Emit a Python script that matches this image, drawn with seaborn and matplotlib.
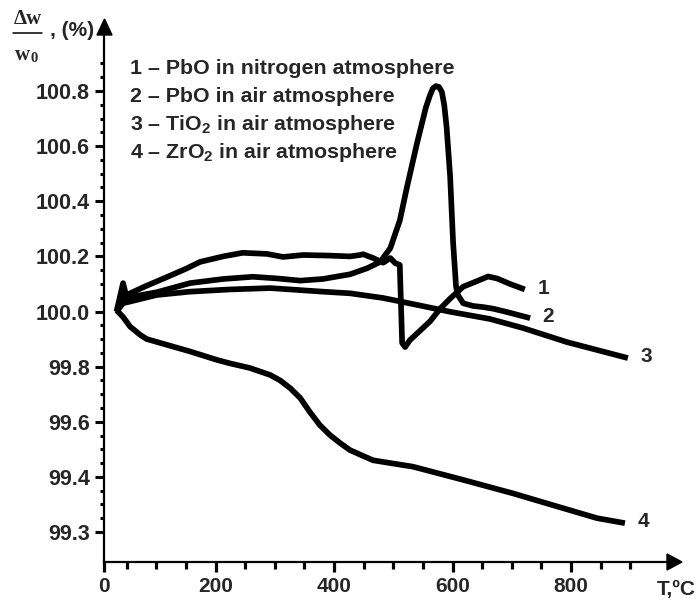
import numpy as np
import pandas as pd
import matplotlib
matplotlib.use("Agg")
import matplotlib.pyplot as plt
import seaborn as sns
from matplotlib.patches import Polygon
from matplotlib.lines import Line2D

# ---------------- data ----------------
t1 = [33, 42, 50, 80, 118, 150, 174, 213, 246, 287, 314, 348, 390, 427, 444, 449,
      466, 483, 495, 503, 511, 515, 520, 528, 540, 562, 579, 596, 618, 641, 660,
      675, 697, 722]
w1 = [100.0, 100.04, 100.06, 100.09, 100.125, 100.155, 100.18, 100.2, 100.213,
      100.209, 100.198, 100.205, 100.203, 100.2, 100.205, 100.208, 100.194, 100.177,
      100.194, 100.176, 100.169, 99.886, 99.871, 99.896, 99.92, 99.964, 100.01,
      100.047, 100.09, 100.11, 100.127, 100.12, 100.1, 100.08]

t2 = [33, 44, 50, 101, 157, 213, 263, 304, 343, 381, 427, 456, 478, 495, 511,
      523, 540, 555, 562, 567, 572, 577, 582, 586, 590, 596, 601, 606, 609, 618,
      635, 652, 669, 692, 731]
w2 = [100.0, 100.103, 100.05, 100.07, 100.103, 100.118, 100.126, 100.12, 100.112,
      100.118, 100.135, 100.157, 100.18, 100.23, 100.33, 100.45, 100.61, 100.74,
      100.785, 100.81, 100.818, 100.815, 100.797, 100.75, 100.67, 100.49, 100.25,
      100.09, 100.06, 100.03, 100.02, 100.016, 100.01, 99.998, 99.976]

t3 = [33, 44, 101, 157, 224, 292, 381, 427, 483, 540, 596, 663, 719, 793, 896]
w3 = [100.0, 100.03, 100.06, 100.072, 100.08, 100.085, 100.072, 100.066, 100.049,
      100.024, 99.999, 99.973, 99.94, 99.889, 99.831]

t4 = [33, 44, 56, 73, 84, 118, 157, 203, 224, 258, 292, 309, 326, 343, 359, 376,
      393, 410, 427, 449, 466, 495, 533, 618, 702, 787, 844, 891]
w4 = [100.005, 99.98, 99.945, 99.915, 99.9, 99.879, 99.855, 99.824, 99.812, 99.795,
      99.77, 99.75, 99.722, 99.686, 99.636, 99.588, 99.552, 99.523, 99.497, 99.476,
      99.46, 99.45, 99.437, 99.389, 99.34, 99.286, 99.25, 99.232]

curve_ids = ["1", "2", "3", "4"]
legend_lines = ["1 \u2013 PbO in nitrogen atmosphere",
                "2 \u2013 PbO in air atmosphere",
                "3 \u2013 TiO$_2$ in air atmosphere",
                "4 \u2013 ZrO$_2$ in air atmosphere"]

ytick_values = [99.2, 99.4, 99.6, 99.8, 100.0, 100.2, 100.4, 100.6, 100.8]
ytick_labels = ["99.3", "99.4", "99.6", "99.8", "100.0", "100.2", "100.4", "100.6", "100.8"]
xtick_values = [12, 200, 400, 600, 800]
xtick_labels = ["0", "200", "400", "600", "800"]
x_label = "T,\u00baC"

# ---------------- style ----------------
sns.set_theme(style="ticks")
plt.rcParams["font.family"] = ["Liberation Sans", "DejaVu Sans"]
plt.rcParams["font.weight"] = "bold"
plt.rcParams["mathtext.fontset"] = "custom"
for k in ("rm", "it", "bf", "sf"):
    plt.rcParams["mathtext." + k] = "Liberation Sans:bold"

W, H = 698, 604
def fx(px):
    return px / W
def fy(py):
    return 1 - py / H

fig = plt.figure(figsize=(W / 100, H / 100), dpi=100)
fig.patch.set_facecolor("white")
ax = fig.add_axes([fx(104), fy(562), fx(667) - fx(104), fy(34) - fy(562)])
ax.set_facecolor("white")

frames = []
for cid, t, w in zip(curve_ids, [t1, t2, t3, t4], [w1, w2, w3, w4]):
    frames.append(pd.DataFrame({"T": t, "w": w, "curve": cid}))
df = pd.concat(frames, ignore_index=True)

sns.lineplot(data=df, x="T", y="w", hue="curve", palette=["black"] * 4,
             estimator=None, sort=False, linewidth=4.1, legend=False, ax=ax)
for line in ax.lines:
    line.set_solid_capstyle("butt")
    line.set_solid_joinstyle("round")

ax.set_xlim(11.8, 962)
ax.set_ylim(99.091, 101.007)

ax.spines["top"].set_visible(False)
ax.spines["right"].set_visible(False)
for s in ("left", "bottom"):
    ax.spines[s].set_linewidth(1.6)
    ax.spines[s].set_color("black")

ax.set_xticks(xtick_values)
ax.set_xticklabels(xtick_labels, fontsize=15, fontweight="bold")
ax.set_yticks(ytick_values)
ax.set_yticklabels(ytick_labels, fontsize=15.5, fontweight="bold")
ax.set_xticks([v for v in range(50, 901, 50) if v % 200 != 0], minor=True)
ax.set_yticks([round(v, 2) for v in np.arange(99.25, 100.91, 0.05)
               if all(abs(v - m) > 1e-6 for m in ytick_values)], minor=True)

ax.tick_params(axis="x", which="major", length=7, width=2.3, pad=4, color="black")
ax.tick_params(axis="x", which="minor", length=4.8, width=2.3, color="black")
ax.tick_params(axis="y", which="major", length=6.5, width=2.2, pad=3.5, color="black")
ax.tick_params(axis="y", which="minor", length=3.2, width=2.2, color="black")
ax.set_xlabel("")
ax.set_ylabel("")

# axis arrows
fig.patches.append(Polygon([(fx(667), fy(554)), (fx(682), fy(562)), (fx(667), fy(570))],
                           closed=True, transform=fig.transFigure, color="black"))
fig.patches.append(Polygon([(fx(97), fy(35)), (fx(104.5), fy(19)), (fx(112), fy(35))],
                           closed=True, transform=fig.transFigure, color="black"))

# curve end labels
for cid, t, w in zip(curve_ids, [t1, t2, t3, t4], [w1, w2, w3, w4]):
    ax.annotate(cid, xy=(t[-1], w[-1]), xytext=(9, 1), textcoords="offset points",
                ha="left", va="center", fontsize=15, fontweight="bold")

# legend text block
for i, txt in enumerate(legend_lines):
    fig.text(fx(130), fy(68 + i * 28.3), txt, ha="left", va="center",
             fontsize=15.4, fontweight="bold")

# y axis label (fraction)
fig.text(fx(27.5), fy(19), "\u0394w", ha="center", va="center",
         family=["Liberation Serif", "DejaVu Serif"], fontweight="bold", fontsize=15)
fig.add_artist(Line2D([fx(13), fx(42)], [fy(33), fy(33)], lw=1.1, color="black",
                      transform=fig.transFigure))
fig.text(fx(23), fy(55), "w", ha="center", va="center",
         family=["Liberation Serif", "DejaVu Serif"], fontweight="bold", fontsize=15)
fig.text(fx(34), fy(58.5), "0", ha="center", va="center",
         family=["Liberation Serif", "DejaVu Serif"], fontweight="bold", fontsize=10.5)
fig.text(fx(50), fy(31), ", (%)", ha="left", va="center", fontsize=15, fontweight="bold")

# x axis label
fig.text(fx(696), fy(589), x_label, ha="right", va="center", fontsize=15, fontweight="bold")

fig.savefig("out.png", dpi=100, facecolor="white")
